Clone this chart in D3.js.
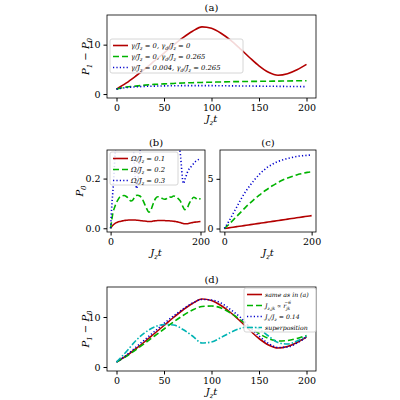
<!DOCTYPE html><html><head><meta charset="utf-8"><script src="https://d3js.org/d3.v7.min.js"></script>
<style>body{margin:0;background:#fff}text{font-family:"DejaVu Serif","Liberation Serif",serif;}</style></head><body><svg id="s" width="400" height="400"></svg><script>
const tA=d3.range(0,201,10);
const aRed=[1,2.2,3.6,5.1,6.7,8.3,9.9,11.4,12.7,13.6,13.3,12.3,10.9,9.2,7.4,5.7,4.4,3.8,4.1,4.9,6.0];
const aGreen=[1,1.4,1.6,1.8,1.95,2.05,2.15,2.25,2.3,2.35,2.4,2.45,2.5,2.52,2.55,2.58,2.6,2.62,2.65,2.68,2.7];
const aBlue=[1,1.3,1.45,1.55,1.6,1.65,1.68,1.7,1.7,1.7,1.7,1.68,1.66,1.64,1.62,1.6,1.58,1.56,1.54,1.52,1.5];
const tB=d3.range(0,201,5);
const bRed=[0,0.012,0.02,0.024,0.027,0.029,0.031,0.032,0.033,0.033,0.033,0.033,0.032,0.031,0.03,0.029,0.028,0.027,0.027,0.029,0.03,0.031,0.031,0.031,0.031,0.03,0.03,0.029,0.028,0.027,0.025,0.023,0.02,0.018,0.018,0.02,0.022,0.024,0.025,0.026,0.027];
const bGreen=[0,0.06,0.09,0.11,0.125,0.13,0.132,0.128,0.12,0.11,0.115,0.13,0.133,0.13,0.12,0.1,0.08,0.065,0.075,0.1,0.12,0.127,0.125,0.12,0.117,0.12,0.127,0.125,0.13,0.127,0.12,0.11,0.09,0.075,0.08,0.1,0.115,0.125,0.12,0.115,0.12];
const tBb=[0,3,6,10,20,40,50,55,58,62,70,100,140,155,162,166,172,180,190,200];
const bBlue=[0,0.1,0.17,0.3,0.45,0.5,0.35,0.2,0.16,0.22,0.4,0.5,0.45,0.3,0.18,0.2,0.23,0.25,0.27,0.28];
const cRed=[0,0.065,0.13,0.195,0.26,0.325,0.39,0.455,0.52,0.585,0.65,0.715,0.78,0.845,0.91,0.975,1.04,1.105,1.17,1.235,1.3];
const cGreen=[0,0.4,0.85,1.3,1.75,2.2,2.6,3.0,3.35,3.7,4.0,4.3,4.55,4.8,5.0,5.15,5.3,5.45,5.55,5.65,5.7];
const cBlue=[0,0.7,1.5,2.3,3.1,3.8,4.4,4.95,5.45,5.85,6.2,6.45,6.7,6.85,7.0,7.1,7.2,7.28,7.33,7.37,7.4];
const dGreen=[1,2.1,3.4,4.8,6.2,7.6,9.0,10.3,11.4,12.1,12.2,11.8,10.8,9.5,8.0,6.7,5.7,5.2,5.3,5.7,6.3];
const dBlue=[1,2.3,3.9,5.5,7.1,8.7,10.2,11.6,12.8,13.5,13.4,12.8,11.5,10,8,6.2,4.7,3.9,4.0,4.8,6.0];
const dCyan=[1,3.0,5.2,6.9,8.0,8.5,8.4,7.5,6.2,4.8,5.0,5.9,6.9,7.7,8.1,7.6,6.2,4.9,4.6,5.2,6.2];
const legA=["γ/J<sub>z</sub> = 0,  γ<sub>d</sub>/J<sub>z</sub> = 0","γ/J<sub>z</sub> = 0,  γ<sub>d</sub>/J<sub>z</sub> = 0.265","γ/J<sub>z</sub> = 0.004,  γ<sub>d</sub>/J<sub>z</sub> = 0.265"];
const legB=["Ω/J<sub>z</sub> = 0.1","Ω/J<sub>z</sub> = 0.2","Ω/J<sub>z</sub> = 0.3"];
const legD=["same as in (a)","J<sub>z,jk</sub> ∝ r<sub>jk</sub><sup>−6</sup>","J<sub>x</sub>/J<sub>z</sub> = 0.14","superposition"];
const S={red:{c:"#b30000",d:null},green:{c:"#00b300",d:"6,3"},blue:{c:"#0000cc",d:"1.2,2.2"},cyan:{c:"#00b3b3",d:"6,2,1.5,2"}};
const svg=d3.select("#s");let cid=0;
function rich(sel,str,fs){
  const parts=str.split(/(<sub>.*?<\/sub>|<sup>.*?<\/sup>)/);let off=0;
  parts.forEach(p=>{if(!p)return;let m;
    if(m=p.match(/<sub>(.*)<\/sub>/)){const d=fs*0.25-off;off=fs*0.25;sel.append("tspan").attr("font-size",fs*0.7).attr("dy",d).text(m[1]);}
    else if(m=p.match(/<sup>(.*)<\/sup>/)){const d=-fs*0.6-off;off=-fs*0.6;sel.append("tspan").attr("dx",-fs*0.9).attr("font-size",fs*0.7).attr("dy",d).text(m[1]);}
    else {const d=-off;off=0;sel.append("tspan").attr("dy",d).text(p);}});
}
function panel(o){
  const x=d3.scaleLinear().domain(o.xd).range([o.l,o.r]);
  const y=d3.scaleLinear().domain(o.yd).range([o.b,o.t]);
  const g=svg.append("g");const id="c"+(cid++);
  g.append("clipPath").attr("id",id).append("rect").attr("x",o.l).attr("y",o.t).attr("width",o.r-o.l).attr("height",o.b-o.t);
  g.append("g").attr("transform",`translate(0,${o.b})`).call(d3.axisBottom(x).tickValues(o.xt).tickSize(3.5).tickSizeOuter(0)).call(a=>{a.select(".domain").remove();a.selectAll("text").attr("font-size",9.5).style("font-family","DejaVu Serif")});
  g.append("g").attr("transform",`translate(${o.l},0)`).call(d3.axisLeft(y).tickValues(o.yt).tickFormat(o.yf||d3.format("d")).tickSize(3.5).tickSizeOuter(0)).call(a=>{a.select(".domain").remove();a.selectAll("text").attr("font-size",9.5).style("font-family","DejaVu Serif")});
  o.series.forEach(s=>{const st=S[s.k];
    g.append("path").attr("clip-path",`url(#${id})`).datum(s.t.map((t,i)=>[t,s.v[i]])).attr("fill","none").attr("stroke",st.c).attr("stroke-width",1.6).attr("stroke-dasharray",st.d).attr("d",d3.line().x(d=>x(d[0])).y(d=>y(d[1])).curve(d3.curveMonotoneX));});
  g.append("rect").attr("x",o.l).attr("y",o.t).attr("width",o.r-o.l).attr("height",o.b-o.t).attr("fill","none").attr("stroke","#000").attr("stroke-width",0.8);
  g.append("text").attr("x",(o.l+o.r)/2).attr("y",o.t-4).attr("text-anchor","middle").attr("font-size",10).text(o.title);
  const xl=g.append("text").attr("x",(o.l+o.r)/2).attr("y",o.b+24).attr("text-anchor","middle").attr("font-size",10).attr("font-style","italic");rich(xl,"J<sub>z</sub>t",10);
  if(o.ylab){const yl=g.append("text").attr("transform",`translate(${o.l-(o.ylo||20)},${(o.t+o.b)/2}) rotate(-90)`).attr("text-anchor","middle").attr("font-size",10).attr("font-style","italic");rich(yl,o.ylab,10);}
  if(o.leg){const L=o.leg;const lg=g.append("g");
    lg.append("rect").attr("x",L.x).attr("y",L.y).attr("width",L.w).attr("height",L.h).attr("rx",2).attr("fill","#fff").attr("fill-opacity",0.85).attr("stroke","#ccc").attr("stroke-width",0.8);
    L.items.forEach((it,i)=>{const yy=L.y+L.dy*(i+0.5)+1;const st=S[o.series[i].k];
      lg.append("line").attr("x1",L.x+3).attr("x2",L.x+3+L.lw).attr("y1",yy).attr("y2",yy).attr("stroke",st.c).attr("stroke-width",1.6).attr("stroke-dasharray",st.d);
      const tx=lg.append("text").attr("x",L.x+6+L.lw).attr("y",yy+2.5).attr("font-size",L.fs).attr("font-style","italic");rich(tx,it,L.fs);});}
}
panel({l:107,r:316,t:15,b:98,xd:[-10,210],yd:[-0.8,16],xt:[0,50,100,150,200],yt:[0,10],title:"(a)",ylab:"P<sub>1</sub> − P<sub>0</sub>",ylo:18,
 series:[{k:"red",t:tA,v:aRed},{k:"green",t:tA,v:aGreen},{k:"blue",t:tA,v:aBlue}],
 leg:{x:110,y:39,w:133,h:34,dy:11,lw:15,fs:6.8,items:legA}});
panel({l:107,r:205,t:150,b:232,xd:[-8,210],yd:[-0.015,0.315],xt:[0,200],yt:[0,0.2],yf:d3.format(".1f"),title:"(b)",ylab:"P<sub>0</sub>",ylo:24,
 series:[{k:"red",t:tB,v:bRed},{k:"green",t:tB,v:bGreen},{k:"blue",t:tBb,v:bBlue}],
 leg:{x:110,y:152,w:68,h:33,dy:11,lw:15,fs:6.8,items:legB}});
panel({l:220,r:316,t:150,b:232,xd:[-10,210],yd:[-0.35,7.9],xt:[0,200],yt:[0,5],title:"(c)",
 series:[{k:"red",t:tA,v:cRed},{k:"green",t:tA,v:cGreen},{k:"blue",t:tA,v:cBlue}]});
panel({l:107,r:316,t:287,b:371,xd:[-10,210],yd:[-0.8,16],xt:[0,50,100,150,200],yt:[0,10],title:"(d)",ylab:"P<sub>1</sub> − P<sub>0</sub>",ylo:18,
 series:[{k:"red",t:tA,v:aRed},{k:"green",t:tA,v:dGreen},{k:"blue",t:tA,v:dBlue},{k:"cyan",t:tA,v:dCyan}],
 leg:{x:244,y:288,w:72,h:44,dy:11,lw:15,fs:6.2,items:legD}});
</script></body></html>
